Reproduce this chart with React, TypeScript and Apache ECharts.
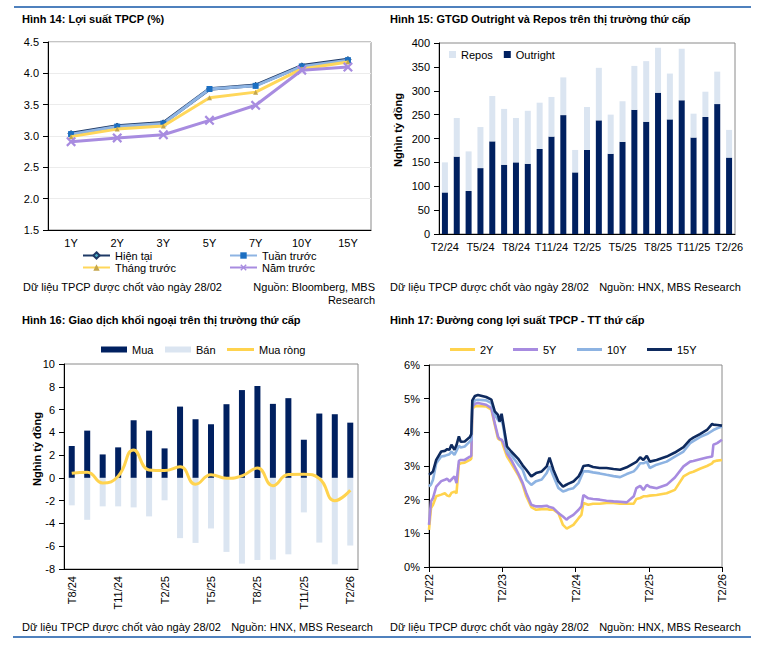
import React, { useEffect, useRef } from "react";
import * as echarts from "echarts";

const FONT = "'Liberation Sans', Arial, sans-serif";

// ---------- Hình 14 ----------
const tenors = ["1Y", "2Y", "3Y", "5Y", "7Y", "10Y", "15Y"];
const yieldNow = [3.04, 3.16, 3.21, 3.75, 3.81, 4.12, 4.22];
const yieldWeek = [3.03, 3.15, 3.2, 3.75, 3.8, 4.11, 4.21];
const yieldMonth = [2.99, 3.11, 3.16, 3.61, 3.7, 4.07, 4.18];
const yieldYear = [2.91, 2.97, 3.02, 3.25, 3.49, 4.05, 4.1];

// ---------- Hình 15 ----------
const months15 = [
  "T2/24", "T3/24", "T4/24", "T5/24", "T6/24", "T7/24", "T8/24", "T9/24", "T10/24",
  "T11/24", "T12/24", "T1/25", "T2/25", "T3/25", "T4/25", "T5/25", "T6/25", "T7/25",
  "T8/25", "T9/25", "T10/25", "T11/25", "T12/25", "T1/26", "T2/26",
];
const outright = [87, 162, 90, 138, 194, 145, 150, 147, 178, 204, 249, 129, 176, 238, 168, 193, 260, 235, 296, 240, 280, 202, 245, 272, 160];
const repos = [63, 81, 83, 86, 95, 117, 93, 111, 97, 83, 79, 47, 90, 110, 82, 85, 92, 127, 94, 96, 108, 50, 53, 68, 58];

// ---------- Hình 16 ----------
const months16 = [
  "T8/24", "T9/24", "T10/24", "T11/24", "T12/24", "T1/25", "T2/25", "T3/25", "T4/25",
  "T5/25", "T6/25", "T7/25", "T8/25", "T9/25", "T10/25", "T11/25", "T12/25", "T1/26", "T2/26",
];
const mua = [2.8, 4.15, 2.06, 2.68, 5.06, 4.15, 2.59, 6.26, 5.15, 4.71, 6.47, 7.71, 8.06, 6.5, 7.0, 3.35, 5.65, 5.59, 4.85];
const ban = [-2.41, -3.68, -2.5, -2.5, -2.59, -3.38, -1.97, -5.29, -5.71, -4.44, -6.5, -7.53, -7.2, -7.18, -6.71, -3.03, -5.68, -7.59, -5.94];
const muaRong = [0.4, 0.5, -0.45, 0.15, 2.45, 0.7, 0.65, 0.97, -0.56, 0.27, -0.03, 0.18, 0.86, -0.68, 0.3, 0.32, -0.05, -2.0, -1.09];

// ---------- Hình 17 ----------
const curveDates = [
  "2022-02-28", "2022-03-10", "2022-03-20", "2022-04-05", "2022-04-30", "2022-05-18", "2022-05-30", "2022-06-10", "2022-06-20", "2022-07-05",
  "2022-07-15", "2022-07-27", "2022-08-05", "2022-08-25", "2022-09-20", "2022-09-27", "2022-10-02", "2022-10-15", "2022-10-30", "2022-12-10",
  "2023-01-05", "2023-01-22", "2023-02-07", "2023-02-15", "2023-02-25", "2023-03-05", "2023-03-24", "2023-04-14", "2023-05-18", "2023-06-10",
  "2023-06-28", "2023-07-23", "2023-08-16", "2023-09-13", "2023-10-08", "2023-10-22", "2023-11-10", "2023-12-05", "2023-12-28", "2024-01-16",
  "2024-01-22", "2024-02-18", "2024-03-15", "2024-03-29", "2024-04-08", "2024-05-02", "2024-05-26", "2024-06-28", "2024-08-01", "2024-09-05",
  "2024-10-08", "2024-11-10", "2024-12-15", "2024-12-28", "2025-01-16", "2025-02-01", "2025-02-18", "2025-03-05", "2025-04-08", "2025-05-28",
  "2025-07-08", "2025-08-20", "2025-09-22", "2025-10-08", "2025-11-10", "2025-12-15", "2026-01-10", "2026-01-16", "2026-02-04", "2026-02-28",
];
const y15 = [
  2.74, 2.78, 2.84, 3.18, 3.43, 3.45, 3.5, 3.48, 3.63, 3.48,
  3.62, 3.88, 3.72, 3.73, 3.86, 3.95, 4.95, 5.08, 5.11, 5.05,
  4.97, 4.62, 4.52, 4.32, 4.55, 4.27, 3.58, 3.43, 3.22, 3.02,
  2.89, 2.69, 2.79, 2.84, 2.99, 3.25, 2.89, 2.54, 2.39, 2.45,
  2.47, 2.54, 2.69, 2.85, 3.0, 3.02, 2.97, 2.94, 2.94, 2.91,
  2.89, 2.96, 3.08, 3.12, 3.26, 3.18, 3.3, 3.13, 3.18, 3.28,
  3.4, 3.56, 3.78, 3.84, 3.95, 4.07, 4.25, 4.23, 4.22, 4.2,
];
const y10 = [
  2.39, 2.45, 2.59, 3.08, 3.28, 3.3, 3.33, 3.35, 3.43, 3.33,
  3.45, 3.6, 3.55, 3.58, 3.73, 3.78, 4.85, 4.95, 4.97, 4.95,
  4.87, 4.52, 4.37, 4.32, 4.38, 4.17, 3.43, 3.33, 3.05, 2.89,
  2.59, 2.44, 2.55, 2.6, 2.79, 2.99, 2.7, 2.35, 2.24, 2.28,
  2.3, 2.34, 2.5, 2.7, 2.84, 2.84, 2.81, 2.78, 2.74, 2.7,
  2.67, 2.76, 2.84, 2.92, 3.08, 3.08, 3.13, 2.94, 3.04, 3.13,
  3.28, 3.43, 3.68, 3.74, 3.86, 3.95, 4.04, 4.07, 4.12, 4.17,
];
const y5 = [
  1.25, 1.95, 2.05, 2.39, 2.55, 2.59, 2.62, 2.54, 2.6, 2.69,
  2.49, 3.15, 3.18, 3.18, 3.28, 3.3, 4.75, 4.85, 4.87, 4.82,
  4.72, 4.27, 3.88, 3.8, 3.78, 3.7, 3.38, 3.18, 2.79, 2.5,
  2.2, 1.85, 1.8, 1.8, 1.82, 1.78, 1.75, 1.6, 1.5, 1.4,
  1.45, 1.55, 1.7, 1.8, 2.14, 2.04, 2.02, 2.0, 1.97, 1.95,
  1.94, 1.92, 2.1, 2.34, 2.41, 2.29, 2.44, 2.38, 2.34, 2.44,
  2.66, 2.99, 3.13, 3.15, 3.2, 3.25, 3.28, 3.63, 3.68, 3.78,
];
const y2 = [
  1.1, 1.75, 1.85, 2.1, 2.15, 2.19, 2.12, 2.1, 2.2, 2.24,
  2.19, 3.05, 3.08, 3.1, 3.18, 3.22, 4.7, 4.77, 4.78, 4.77,
  4.67, 4.22, 3.82, 3.78, 3.76, 3.6, 3.28, 3.08, 2.74, 2.45,
  2.1, 1.78, 1.7, 1.72, 1.72, 1.7, 1.7, 1.6, 1.25, 1.14,
  1.16, 1.25, 1.45, 1.55, 1.9, 1.85, 1.88, 1.88, 1.9, 1.9,
  1.88, 1.88, 1.88, 2.02, 2.05, 2.1, 2.1, 2.12, 2.14, 2.19,
  2.29, 2.69, 2.8, 2.83, 2.92, 3.0, 3.08, 3.13, 3.16, 3.18,
];
const curveTickLabels = ["T2/22", "T2/23", "T2/24", "T2/25", "T2/26"];
const curveStart = "2022-02-28";

const NAVY = "#002060";
const LIGHT = "#DBE5F1";
const YELLOW = "#FFD34E";
const PURPLE = "#A78BE0";
const LBLUE = "#8DB3E2";
const DNAVY = "#0E2A5E";

const DAY = 86400000;
const toDays = (d: string) => (Date.parse(d) - Date.parse(curveStart)) / DAY;
const pairs = (vals: number[]) => curveDates.map((d, i) => [toDays(d), vals[i]]);

const XMARK = "path://M0,1.6 L1.6,0 L5,3.4 L8.4,0 L10,1.6 L6.6,5 L10,8.4 L8.4,10 L5,6.6 L1.6,10 L0,8.4 L3.4,5 Z";

const axisLbl = { color: "#000", fontSize: 11, fontFamily: FONT };
const blackLine = { lineStyle: { color: "#000", width: 1 } };
const legendBase = {
  padding: 0,
  itemGap: 0,
  selectedMode: false,
  textStyle: { fontSize: 11, color: "#000", fontFamily: FONT },
};
const lineLegend = { ...legendBase, itemHeight: 3, icon: "rect", top: 344 };

function txt(text: string, x: number, y: number, opts: any = {}) {
  return {
    type: "text",
    x,
    y,
    rotation: opts.rotation || 0,
    style: {
      text,
      fill: "#000",
      fontSize: opts.size || 11,
      fontWeight: opts.bold ? "bold" : "normal",
      fontFamily: FONT,
      align: opts.align || "left",
      textAlign: opts.align || "left",
      verticalAlign: "middle",
      textVerticalAlign: "middle",
    },
  };
}

export default function App() {
  const ref = useRef<HTMLDivElement>(null);
  useEffect(() => {
    if (!ref.current) return;
    const chart = echarts.init(ref.current, undefined, { renderer: "svg" });
    const gridBox = { show: true, borderColor: "#8a8a8a", borderWidth: 1, backgroundColor: "transparent" };
    const option: any = {
      animation: false,
      textStyle: { fontFamily: FONT },
      grid: [
        { ...gridBox, left: 48, top: 42, width: 323, height: 188 },
        { ...gridBox, left: 439, top: 43, width: 296, height: 191 },
        { ...gridBox, left: 64, top: 364, width: 294, height: 205 },
        { ...gridBox, left: 429, top: 365, width: 293, height: 202 },
      ],
      xAxis: [
        {
          gridIndex: 0, type: "category", data: tenors,
          axisLine: blackLine, axisTick: { length: 5, lineStyle: { color: "#000" } },
          axisLabel: { ...axisLbl, margin: 7 },
        },
        {
          gridIndex: 1, type: "category", data: months15,
          axisLine: blackLine, axisTick: { show: false },
          axisLabel: { ...axisLbl, interval: 2, margin: 7 },
        },
        {
          gridIndex: 2, type: "category", data: months16,
          axisLine: { onZero: false, lineStyle: { color: "#000", width: 1 } }, axisTick: { show: false },
          axisLabel: { ...axisLbl, interval: 2, rotate: 90, margin: 7 },
        },
        {
          gridIndex: 3, type: "value", min: 0, max: 1461, interval: 365.25,
          axisLine: blackLine, axisTick: { length: 5, lineStyle: { color: "#000" } },
          splitLine: { show: false },
          axisLabel: {
            ...axisLbl, rotate: 90, margin: 7,
            formatter: (v: number) => curveTickLabels[Math.round(v / 365.25)] || "",
          },
        },
      ],
      yAxis: [
        {
          gridIndex: 0, type: "value", min: 1.5, max: 4.5, interval: 0.5,
          axisLine: { show: true, ...blackLine }, axisTick: { show: true, length: 5, lineStyle: { color: "#000" } },
          splitLine: { show: true, lineStyle: { color: "#ECECEC", width: 1 } },
          axisLabel: { ...axisLbl, margin: 9, formatter: (v: number) => v.toFixed(1) },
        },
        {
          gridIndex: 1, type: "value", min: 0, max: 400, interval: 50,
          axisLine: { show: true, ...blackLine }, axisTick: { show: true, length: 5, lineStyle: { color: "#000" } },
          splitLine: { show: false },
          axisLabel: { ...axisLbl, margin: 9 },
        },
        {
          gridIndex: 2, type: "value", min: -8, max: 10, interval: 2,
          axisLine: { show: true, ...blackLine }, axisTick: { show: true, length: 5, lineStyle: { color: "#000" } },
          splitLine: { show: false },
          axisLabel: { ...axisLbl, margin: 9 },
        },
        {
          gridIndex: 3, type: "value", min: 0, max: 6, interval: 1,
          axisLine: { show: true, ...blackLine }, axisTick: { show: true, length: 5, lineStyle: { color: "#000" } },
          splitLine: { show: false },
          axisLabel: { ...axisLbl, margin: 9, formatter: "{value}%" },
        },
      ],
      legend: [
        { ...legendBase, data: ["Hiện tại"], left: 82, top: 250, itemWidth: 27, itemHeight: 8 },
        { ...legendBase, data: ["Tuần trước"], left: 229, top: 250, itemWidth: 27, itemHeight: 8 },
        { ...legendBase, data: ["Tháng trước"], left: 82, top: 262, itemWidth: 27, itemHeight: 8 },
        { ...legendBase, data: ["Năm trước"], left: 229, top: 262, itemWidth: 27, itemHeight: 8 },
        { ...legendBase, data: ["Repos", "Outright"], left: 449, top: 49, itemWidth: 7, itemHeight: 7, itemGap: 11, icon: "rect" },
        { ...legendBase, data: ["Mua"], left: 101, top: 344, itemWidth: 26, itemHeight: 6, icon: "rect" },
        { ...legendBase, data: ["Bán"], left: 165, top: 344, itemWidth: 26, itemHeight: 6, icon: "rect" },
        { ...lineLegend, data: ["Mua ròng"], left: 227, itemWidth: 27 },
        { ...lineLegend, data: ["2Y"], left: 450, itemWidth: 25 },
        { ...lineLegend, data: ["5Y"], left: 513, itemWidth: 25 },
        { ...lineLegend, data: ["10Y"], left: 577, itemWidth: 25 },
        { ...lineLegend, data: ["15Y"], left: 647, itemWidth: 25 },
      ],
      series: [
        // Hình 14
        {
          name: "Hiện tại", type: "line", xAxisIndex: 0, yAxisIndex: 0, data: yieldNow,
          lineStyle: { color: "#1F3A66", width: 3.5 }, itemStyle: { color: "#4BACC6", borderColor: "#1F3A66", borderWidth: 1 },
          symbol: "diamond", symbolSize: 6, z: 2,
        },
        {
          name: "Tuần trước", type: "line", xAxisIndex: 0, yAxisIndex: 0, data: yieldWeek,
          lineStyle: { color: "#8EB4E3", width: 3 }, itemStyle: { color: "#1C6FC2" },
          symbol: "rect", symbolSize: 6, z: 3,
        },
        {
          name: "Tháng trước", type: "line", xAxisIndex: 0, yAxisIndex: 0, data: yieldMonth,
          lineStyle: { color: "#FFD75A", width: 3 }, itemStyle: { color: "#C4A64C" },
          symbol: "triangle", symbolSize: 5, z: 4,
        },
        {
          name: "Năm trước", type: "line", xAxisIndex: 0, yAxisIndex: 0, data: yieldYear,
          lineStyle: { color: "#A88CE0", width: 3 }, itemStyle: { color: "#A88CE0" },
          symbol: XMARK, symbolSize: 10, z: 5,
        },
        // Hình 15
        {
          name: "Outright", type: "bar", xAxisIndex: 1, yAxisIndex: 1, stack: "gtgd", data: outright,
          barWidth: 6, itemStyle: { color: NAVY },
        },
        {
          name: "Repos", type: "bar", xAxisIndex: 1, yAxisIndex: 1, stack: "gtgd", data: repos,
          barWidth: 6, itemStyle: { color: LIGHT },
        },
        // Hình 16
        {
          name: "Mua", type: "bar", xAxisIndex: 2, yAxisIndex: 2, data: mua,
          barWidth: 6, barGap: "-100%", itemStyle: { color: NAVY },
        },
        {
          name: "Bán", type: "bar", xAxisIndex: 2, yAxisIndex: 2, data: ban,
          barWidth: 6, barGap: "-100%", itemStyle: { color: LIGHT },
        },
        {
          name: "Mua ròng", type: "line", xAxisIndex: 2, yAxisIndex: 2, data: muaRong,
          smooth: 0.5, symbol: "none", lineStyle: { color: YELLOW, width: 3 }, itemStyle: { color: YELLOW }, z: 5,
        },
        // Hình 17
        {
          name: "2Y", type: "line", xAxisIndex: 3, yAxisIndex: 3, data: pairs(y2),
          symbol: "none", lineStyle: { color: YELLOW, width: 2.6 }, itemStyle: { color: YELLOW }, z: 2,
        },
        {
          name: "5Y", type: "line", xAxisIndex: 3, yAxisIndex: 3, data: pairs(y5),
          symbol: "none", lineStyle: { color: PURPLE, width: 2.6 }, itemStyle: { color: PURPLE }, z: 3,
        },
        {
          name: "10Y", type: "line", xAxisIndex: 3, yAxisIndex: 3, data: pairs(y10),
          symbol: "none", lineStyle: { color: LBLUE, width: 2.6 }, itemStyle: { color: LBLUE }, z: 4,
        },
        {
          name: "15Y", type: "line", xAxisIndex: 3, yAxisIndex: 3, data: pairs(y15),
          symbol: "none", lineStyle: { color: DNAVY, width: 2.6 }, itemStyle: { color: DNAVY }, z: 5,
        },
      ],
      graphic: [
        { type: "line", shape: { x1: 14, y1: 7, x2: 751, y2: 7 }, style: { stroke: "#4F81BD", lineWidth: 2 } },
        { type: "line", shape: { x1: 13, y1: 637, x2: 751, y2: 637 }, style: { stroke: "#4F81BD", lineWidth: 2 } },
        txt("Hình 14: Lợi suất TPCP (%)", 22, 19, { bold: true }),
        txt("Hình 15: GTGD Outright và Repos trên thị trường thứ cấp", 390, 19, { bold: true }),
        txt("Hình 16: Giao dịch khối ngoại trên thị trường thứ cấp", 22, 320, { bold: true }),
        txt("Hình 17: Đường cong lợi suất TPCP - TT thứ cấp", 390, 320, { bold: true }),
        txt("Nghìn tỷ đồng", 398, 130, { bold: true, rotation: Math.PI / 2, align: "center" }),
        txt("Nghìn tỷ đồng", 37, 449, { bold: true, rotation: Math.PI / 2, align: "center" }),
        txt("Dữ liệu TPCP được chốt vào ngày 28/02", 23, 287),
        txt("Nguồn: Bloomberg, MBS", 375, 287, { align: "right" }),
        txt("Research", 375, 300, { align: "right" }),
        txt("Dữ liệu TPCP được chốt vào ngày 28/02", 390, 287),
        txt("Nguồn: HNX, MBS Research", 741, 287, { align: "right" }),
        txt("Dữ liệu TPCP được chốt vào ngày 28/02", 22, 627),
        txt("Nguồn: HNX, MBS Research", 373, 627, { align: "right" }),
        txt("Dữ liệu TPCP được chốt vào ngày 28/02", 390, 627),
        txt("Nguồn: HNX, MBS Research", 741, 627, { align: "right" }),
      ],
    };
    chart.setOption(option);
    return () => chart.dispose();
  }, []);
  return (
    <div
      ref={ref}
      style={{ position: "fixed", left: 0, top: 0, width: 772, height: 647, background: "#fff" }}
    />
  );
}
